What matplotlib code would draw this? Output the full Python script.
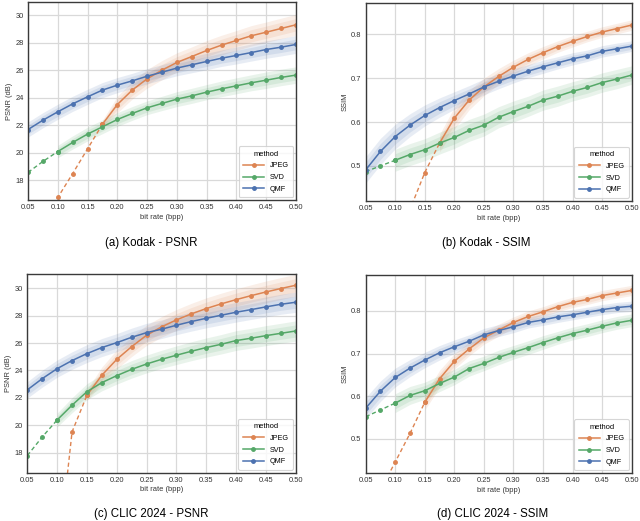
import numpy as np
import matplotlib
matplotlib.use("Agg")
import matplotlib.pyplot as plt

plt.rcParams["font.family"] = ["Liberation Sans", "DejaVu Sans"]

bitrate = [0.05, 0.075, 0.10, 0.125, 0.15, 0.175, 0.20, 0.225, 0.25, 0.275,
           0.30, 0.325, 0.35, 0.375, 0.40, 0.425, 0.45, 0.475, 0.50]
methods = ["JPEG", "SVD", "QMF"]

# Kodak - PSNR
kodak_psnr_jpeg = [13.2, 15.0, 16.74, 18.48, 20.28, 22.07, 23.50, 24.55, 25.37, 26.00,
                   26.56, 26.99, 27.43, 27.82, 28.16, 28.50, 28.76, 29.03, 29.30]
kodak_psnr_svd = [18.56, 19.36, 20.08, 20.74, 21.35, 21.88, 22.41, 22.85, 23.26, 23.58,
                  23.89, 24.13, 24.40, 24.64, 24.86, 25.08, 25.27, 25.47, 25.64]
kodak_psnr_qmf = [21.68, 22.36, 22.97, 23.55, 24.06, 24.55, 24.91, 25.22, 25.56, 25.85,
                  26.15, 26.39, 26.63, 26.87, 27.07, 27.28, 27.50, 27.67, 27.87]
kodak_psnr_jpeg_sd = [0, 0, 0, 0, 0, 0.30, 0.60, 0.65, 0.68, 0.70,
                      0.70, 0.70, 0.72, 0.72, 0.72, 0.74, 0.74, 0.75, 0.75]
kodak_psnr_svd_sd = [0, 0, 0.45, 0.48, 0.50, 0.50, 0.50, 0.50, 0.50, 0.52,
                     0.54, 0.55, 0.55, 0.57, 0.58, 0.58, 0.60, 0.60, 0.60]
kodak_psnr_qmf_sd = [0.55, 0.55, 0.55, 0.55, 0.55, 0.55, 0.55, 0.55, 0.55, 0.55,
                     0.56, 0.58, 0.60, 0.60, 0.62, 0.62, 0.64, 0.64, 0.65]

# Kodak - SSIM
kodak_ssim_jpeg = [0.13, 0.22, 0.31, 0.401, 0.485, 0.552, 0.609, 0.650, 0.680, 0.704,
                   0.725, 0.743, 0.758, 0.772, 0.784, 0.795, 0.805, 0.813, 0.821]
kodak_ssim_svd = [0.487, 0.500, 0.513, 0.526, 0.537, 0.552, 0.565, 0.581, 0.593, 0.611,
                  0.624, 0.636, 0.650, 0.659, 0.670, 0.679, 0.690, 0.698, 0.707]
kodak_ssim_qmf = [0.491, 0.533, 0.567, 0.593, 0.615, 0.633, 0.649, 0.664, 0.680, 0.693,
                  0.705, 0.716, 0.726, 0.735, 0.744, 0.751, 0.761, 0.767, 0.773]
kodak_ssim_jpeg_sd = [0, 0, 0, 0, 0, 0.020, 0.025, 0.022, 0.020, 0.018,
                      0.016, 0.015, 0.014, 0.013, 0.013, 0.012, 0.012, 0.012, 0.012]
kodak_ssim_svd_sd = [0, 0, 0.025, 0.025, 0.025, 0.025, 0.025, 0.025, 0.025, 0.024,
                     0.024, 0.023, 0.023, 0.023, 0.022, 0.022, 0.022, 0.022, 0.021]
kodak_ssim_qmf_sd = [0.030, 0.030, 0.028, 0.026, 0.024, 0.022, 0.020, 0.019, 0.018, 0.017,
                     0.016, 0.015, 0.015, 0.014, 0.014, 0.013, 0.013, 0.013, 0.012]

# CLIC 2024 - PSNR
clic_psnr_jpeg = [2.0, 5.0, 9.6, 19.51, 22.19, 23.65, 24.81, 25.74, 26.57, 27.18,
                  27.69, 28.13, 28.52, 28.86, 29.17, 29.46, 29.73, 29.98, 30.22]
clic_psnr_svd = [17.78, 19.14, 20.38, 21.46, 22.45, 23.11, 23.62, 24.08, 24.47, 24.81,
                 25.11, 25.40, 25.67, 25.91, 26.18, 26.35, 26.54, 26.71, 26.88]
clic_psnr_qmf = [22.58, 23.40, 24.13, 24.72, 25.23, 25.67, 26.03, 26.42, 26.76, 27.01,
                 27.30, 27.57, 27.81, 28.03, 28.25, 28.44, 28.64, 28.83, 28.98]
clic_psnr_jpeg_sd = [0, 0, 0, 0, 0.40, 0.60, 0.70, 0.72, 0.74, 0.75,
                     0.76, 0.77, 0.78, 0.78, 0.79, 0.79, 0.80, 0.80, 0.80]
clic_psnr_svd_sd = [0, 0, 0.50, 0.55, 0.58, 0.60, 0.62, 0.64, 0.65, 0.66,
                    0.68, 0.69, 0.70, 0.71, 0.72, 0.72, 0.73, 0.73, 0.74]
clic_psnr_qmf_sd = [0.60, 0.62, 0.63, 0.64, 0.65, 0.66, 0.66, 0.67, 0.68, 0.68,
                    0.69, 0.70, 0.70, 0.71, 0.72, 0.72, 0.73, 0.73, 0.74]

# CLIC 2024 - SSIM
clic_ssim_jpeg = [0.31, 0.38, 0.446, 0.513, 0.586, 0.641, 0.682, 0.711, 0.737, 0.755,
                  0.773, 0.787, 0.798, 0.810, 0.820, 0.827, 0.836, 0.842, 0.848]
clic_ssim_svd = [0.552, 0.568, 0.584, 0.602, 0.613, 0.630, 0.645, 0.665, 0.677, 0.691,
                 0.703, 0.714, 0.726, 0.737, 0.747, 0.755, 0.764, 0.772, 0.778]
clic_ssim_qmf = [0.572, 0.612, 0.644, 0.666, 0.685, 0.702, 0.716, 0.729, 0.744, 0.754,
                 0.763, 0.773, 0.779, 0.786, 0.791, 0.797, 0.803, 0.808, 0.811]
clic_ssim_jpeg_sd = [0, 0, 0, 0, 0.018, 0.020, 0.018, 0.016, 0.015, 0.014,
                     0.013, 0.013, 0.012, 0.012, 0.012, 0.012, 0.012, 0.012, 0.012]
clic_ssim_svd_sd = [0, 0, 0.022, 0.021, 0.020, 0.019, 0.018, 0.018, 0.017, 0.017,
                    0.016, 0.016, 0.016, 0.015, 0.015, 0.015, 0.015, 0.015, 0.015]
clic_ssim_qmf_sd = [0.025, 0.024, 0.022, 0.020, 0.018, 0.017, 0.016, 0.015, 0.015, 0.014,
                    0.014, 0.013, 0.013, 0.013, 0.012, 0.012, 0.012, 0.012, 0.012]

# first index drawn solid (earlier points are dashed)
kodak_start = [5, 2, 0]
clic_start = [4, 2, 0]

colors = {"JPEG": "#DD8452", "SVD": "#55A868", "QMF": "#4C72B0"}

panels = [
    ("(a) Kodak - PSNR", "PSNR (dB)", [kodak_psnr_jpeg, kodak_psnr_svd, kodak_psnr_qmf],
     [kodak_psnr_jpeg_sd, kodak_psnr_svd_sd, kodak_psnr_qmf_sd], kodak_start,
     (16.55, 30.95), [18, 20, 22, 24, 26, 28, 30]),
    ("(b) Kodak - SSIM", "SSIM", [kodak_ssim_jpeg, kodak_ssim_svd, kodak_ssim_qmf],
     [kodak_ssim_jpeg_sd, kodak_ssim_svd_sd, kodak_ssim_qmf_sd], kodak_start,
     (0.421, 0.871), [0.5, 0.6, 0.7, 0.8]),
    ("(c) CLIC 2024 - PSNR", "PSNR (dB)", [clic_psnr_jpeg, clic_psnr_svd, clic_psnr_qmf],
     [clic_psnr_jpeg_sd, clic_psnr_svd_sd, clic_psnr_qmf_sd], clic_start,
     (16.54, 31.04), [18, 20, 22, 24, 26, 28, 30]),
    ("(d) CLIC 2024 - SSIM", "SSIM", [clic_ssim_jpeg, clic_ssim_svd, clic_ssim_qmf],
     [clic_ssim_jpeg_sd, clic_ssim_svd_sd, clic_ssim_qmf_sd], clic_start,
     (0.42, 0.884), [0.5, 0.6, 0.7, 0.8]),
]

boxes = [
    [0.0438, 0.616, 0.4187, 0.380],
    [0.5714, 0.615, 0.4156, 0.379],
    [0.0427, 0.093, 0.4193, 0.381],
    [0.5714, 0.092, 0.4156, 0.380],
]
caption_pos = [(0.236, 0.534, "center"), (0.76, 0.534, "center"),
               (0.236, 0.002, "bottom"), (0.769, 0.002, "bottom")]

fig = plt.figure(figsize=(6.4, 5.21), dpi=100)
x = np.array(bitrate)

for (title, ylabel, series, spreads, starts, ylim, yticks), box, cp in zip(panels, boxes, caption_pos):
    ax = fig.add_axes(box)
    ax.set_facecolor("white")
    for name, y, sd, s in zip(methods, series, spreads, starts):
        y = np.array(y)
        sd = np.array(sd)
        c = colors[name]
        ax.fill_between(x[s:], y[s:] - sd[s:], y[s:] + sd[s:], color=c, alpha=0.13, lw=0)
        ax.fill_between(x[s:], y[s:] - 0.6 * sd[s:], y[s:] + 0.6 * sd[s:], color=c, alpha=0.13, lw=0)
        if s > 0:
            ax.plot(x[:s + 1], y[:s + 1], color=c, lw=1.0, ls=(0, (3, 2)),
                    marker="o", ms=2.5)
        ax.plot(x[s:], y[s:], color=c, lw=1.1, marker="o", ms=2.5, label=name)
    ax.set_xlim(0.05, 0.50)
    ax.set_ylim(*ylim)
    ax.set_xticks(np.arange(0.05, 0.501, 0.05))
    ax.set_xticklabels([f"{v:.2f}" for v in np.arange(0.05, 0.501, 0.05)])
    ax.set_yticks(yticks)
    ax.set_yticklabels([f"{v:g}" for v in yticks])
    ax.tick_params(labelsize=5.4, length=0, pad=3, colors="#333333")
    ax.grid(True, color="#d9d9d9", lw=0.9)
    ax.set_axisbelow(True)
    for sp in ax.spines.values():
        sp.set_color("#3a3a3a")
        sp.set_linewidth(1.0)
    ax.set_xlabel("bit rate (bpp)", fontsize=5.4, color="#333333", labelpad=2)
    ax.set_ylabel(ylabel, fontsize=5.4, color="#333333", labelpad=2)
    leg = ax.legend(title="method", loc="lower right", fontsize=5.2, title_fontsize=5.4,
                    frameon=True, handlelength=2.9, borderpad=0.6, labelspacing=0.65,
                    fancybox=True, borderaxespad=0.4)
    leg.get_frame().set_edgecolor("#cccccc")
    leg.get_frame().set_linewidth(0.8)
    fig.text(cp[0], cp[1], title, ha="center", va=cp[2], fontsize=8.3)

fig.savefig("out.png", dpi=100)
